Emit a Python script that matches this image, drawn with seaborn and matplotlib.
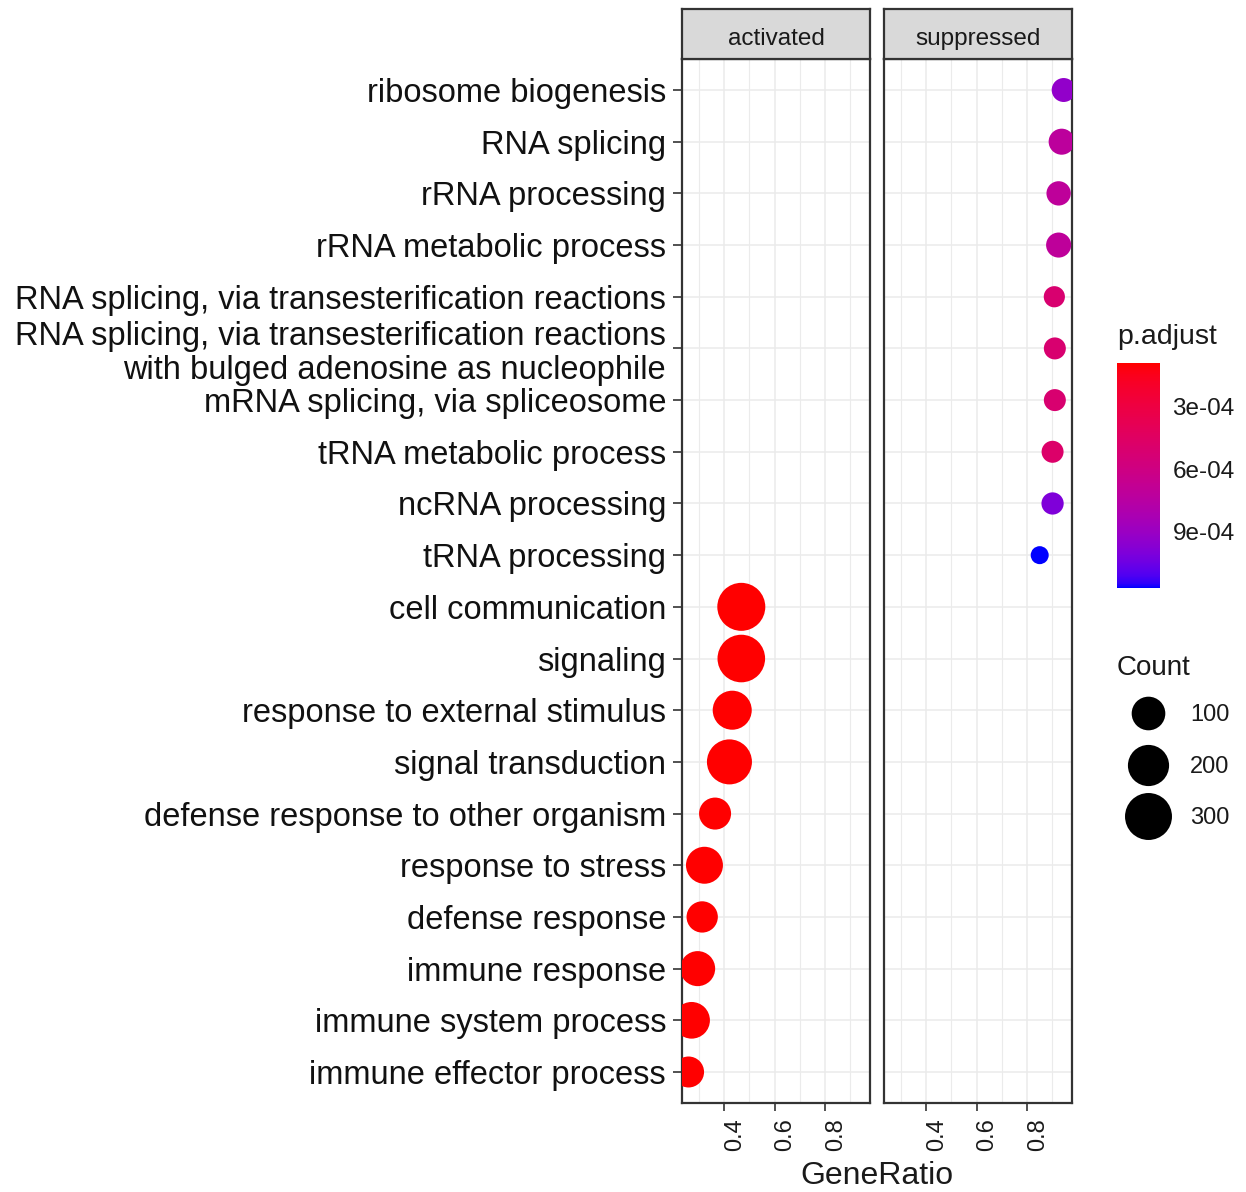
import numpy as np
import pandas as pd
import seaborn as sns
import matplotlib.pyplot as plt
from matplotlib.colors import ListedColormap, Normalize
from matplotlib.cm import ScalarMappable
from matplotlib.lines import Line2D

terms = ["ribosome biogenesis", "RNA splicing", "rRNA processing", "rRNA metabolic process",
         "RNA splicing, via transesterification reactions",
         "RNA splicing, via transesterification reactions\nwith bulged adenosine as nucleophile",
         "mRNA splicing, via spliceosome", "tRNA metabolic process", "ncRNA processing", "tRNA processing",
         "cell communication", "signaling", "response to external stimulus", "signal transduction",
         "defense response to other organism", "response to stress", "defense response",
         "immune response", "immune system process", "immune effector process"]
group = ["suppressed"] * 10 + ["activated"] * 10
gene_ratio = [0.945, 0.937, 0.925, 0.925, 0.908, 0.910, 0.910, 0.901, 0.901, 0.850,
              0.468, 0.468, 0.432, 0.421, 0.364, 0.322, 0.313, 0.295, 0.271, 0.259]
counts = [22, 34, 24, 28, 10, 13, 13, 13, 14, 2,
          320, 312, 168, 264, 83, 140, 76, 116, 136, 73]
p_adjust = [9.3e-4, 7.2e-4, 7.1e-4, 7.1e-4, 5.1e-4, 5.1e-4, 5.1e-4, 4.8e-4, 1.0e-3, 1.17e-3,
            8.9e-5, 8.9e-5, 8.9e-5, 8.9e-5, 8.9e-5, 8.9e-5, 8.9e-5, 8.9e-5, 8.9e-5, 8.9e-5]
panels = ["activated", "suppressed"]
x_ticks = [0.4, 0.6, 0.8]
x_minor = [0.3, 0.5, 0.7, 0.9]
p_ticks = [3e-4, 6e-4, 9e-4]
legend_counts = [100, 200, 300]

df = pd.DataFrame({"Description": terms, "Type": group, "GeneRatio": gene_ratio,
                   "Count": counts, "p.adjust": p_adjust})
df["row"] = np.arange(len(terms))


# red -> blue gradient interpolated in Lab space (like ggplot)
def to_lab(rgb):
    c = np.asarray(rgb, float)
    lin = np.where(c > 0.04045, ((c + 0.055) / 1.055) ** 2.4, c / 12.92)
    m = np.array([[0.4124, 0.3576, 0.1805], [0.2126, 0.7152, 0.0722], [0.0193, 0.1192, 0.9505]])
    xyz = m @ lin / np.array([0.95047, 1.0, 1.08883])
    f = np.where(xyz > 0.008856, np.cbrt(xyz), 7.787 * xyz + 16 / 116)
    return np.array([116 * f[1] - 16, 500 * (f[0] - f[1]), 200 * (f[1] - f[2])])


def from_lab(lab):
    fy = (lab[0] + 16) / 116
    f = np.array([fy + lab[1] / 500, fy, fy - lab[2] / 200])
    xyz = np.where(f ** 3 > 0.008856, f ** 3, (f - 16 / 116) / 7.787) * np.array([0.95047, 1.0, 1.08883])
    m = np.array([[3.2406, -1.5372, -0.4986], [-0.9689, 1.8758, 0.0415], [0.0557, -0.2040, 1.0570]])
    lin = np.clip(m @ xyz, 0, 1)
    return np.clip(np.where(lin > 0.0031308, 1.055 * lin ** (1 / 2.4) - 0.055, 12.92 * lin), 0, 1)


lo, hi = to_lab([1, 0, 0]), to_lab([0, 0, 1])
ramp = ListedColormap([from_lab(lo + t * (hi - lo)) for t in np.linspace(0, 1, 256)])
norm = Normalize(df["p.adjust"].min(), df["p.adjust"].max())

# point size: diameter linear in sqrt(count), like scale_size
cmin, cmax = df["Count"].min(), df["Count"].max()


def diam_pt(c):
    t = (np.sqrt(c) - np.sqrt(cmin)) / (np.sqrt(cmax) - np.sqrt(cmin))
    return (18 + 30 * t) * 72 / 100


size_lut = {c: diam_pt(c) ** 2 for c in df["Count"].unique()}

sns.set_theme(style="white")
plt.rcParams["font.family"] = ["Liberation Sans", "DejaVu Sans"]

W, H = 1246, 1192
fig = plt.figure(figsize=(W / 100, H / 100), dpi=100)


def box(x0, y0, x1, y1):
    return [x0 / W, 1 - y1 / H, (x1 - x0) / W, (y1 - y0) / H]


dark = "#333333"
txt = "#1A1A1A"
ax_a = fig.add_axes(box(682, 59, 870, 1103))
ax_s = fig.add_axes(box(884, 59, 1072, 1103), sharey=ax_a, sharex=ax_a)

for ax, name, sx in [(ax_a, "activated", 682), (ax_s, "suppressed", 884)]:
    sub = df[df["Type"] == name]
    sns.scatterplot(data=sub, x="GeneRatio", y="row", hue="p.adjust", size="Count",
                    palette=ramp, hue_norm=norm, sizes=size_lut, legend=False,
                    linewidth=0, ax=ax, zorder=3)
    ax.set(xlabel="", ylabel="")
    ax.set_facecolor("white")
    ax.set_axisbelow(True)
    ax.set_xticks(x_minor, minor=True)
    ax.grid(True, which="major", color="#EBEBEB", lw=1.1)
    ax.grid(True, which="minor", axis="x", color="#EBEBEB", lw=0.8)
    for sp in ax.spines.values():
        sp.set_color(dark)
        sp.set_linewidth(1.6)
    # facet strip
    st = fig.add_axes(box(sx, 9, sx + 188, 59))
    st.set_facecolor("#D9D9D9")
    st.set_xticks([])
    st.set_yticks([])
    for sp in st.spines.values():
        sp.set_color(dark)
        sp.set_linewidth(1.6)
    st.text(0.5, 0.4, name, ha="center", va="center", fontsize=17.5, color=txt,
            transform=st.transAxes)

ax_a.set_xlim(0.233, 0.978)
ax_a.set_ylim(len(terms) - 0.4, -0.6)
ax_a.set_yticks(df["row"])
ax_a.set_yticklabels(terms)
ax_a.set_xticks(x_ticks)
ax_a.set_xticklabels([f"{v:.1f}" for v in x_ticks])
for ax in (ax_a, ax_s):
    ax.tick_params(axis="x", which="major", length=6, width=1.2, color=dark, pad=5,
                   labelsize=17, labelcolor=txt, labelrotation=90, bottom=True)
    ax.tick_params(which="minor", length=0)
    for lab in ax.get_xticklabels():
        lab.set_ha("left")
ax_a.tick_params(axis="y", length=6.5, width=1.2, color=dark, pad=5, labelsize=23.5,
                 labelcolor="#111111", left=True)
for lab in ax_a.get_yticklabels():
    lab.set_linespacing(1.12)
ax_s.tick_params(axis="y", left=False, labelleft=False)

fig.text(877 / W, 1 - 1176 / H, "GeneRatio", ha="center", va="center", fontsize=23, color=txt)

# colour bar
cax = fig.add_axes(box(1117, 363, 1160, 588))
cb = fig.colorbar(ScalarMappable(norm=norm, cmap=ramp), cax=cax)
cax.invert_yaxis()
cb.outline.set_visible(False)
cb.set_ticks(p_ticks)
cb.set_ticklabels([f"{v:.0e}" for v in p_ticks])
cb.minorticks_off()
cax.tick_params(direction="in", length=5, width=1.2, color="white", left=True, right=True,
                labelsize=17.5, labelcolor=txt, pad=9)
fig.text(1117 / W, 1 - 344 / H, "p.adjust", fontsize=20.5, va="baseline", color=txt)

# size legend
fig.text(1117 / W, 1 - 675 / H, "Count", fontsize=20, va="baseline", color=txt)
handles = [Line2D([], [], ls="", marker="o", markersize=diam_pt(c), markerfacecolor="black",
                  markeredgewidth=0) for c in legend_counts]
fig.legend(handles, [str(c) for c in legend_counts], loc="upper left",
           bbox_to_anchor=(1117 / W, 1 - 695 / H), borderaxespad=0, frameon=False,
           fontsize=17, handlelength=1.8, handletextpad=0.9, labelspacing=1.25, borderpad=0.4,
           labelcolor=txt)

fig.savefig("out.png", dpi=100)
